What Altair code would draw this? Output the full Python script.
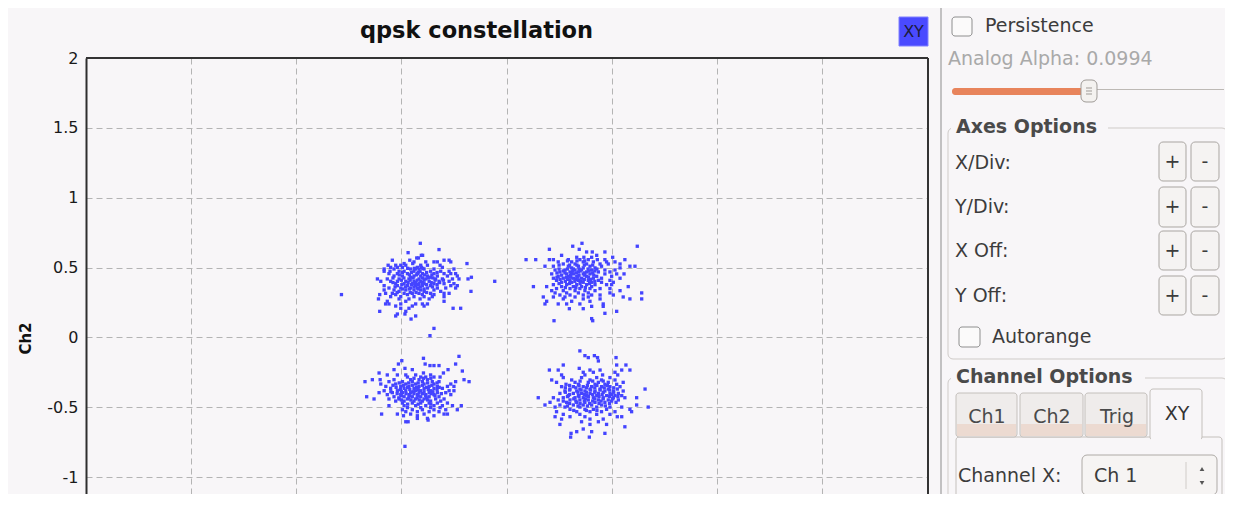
import altair as alt
import pandas as pd

# ---------------- data: received QPSK symbols (Ch1 = I on x, Ch2 = Q on y)
# each row: (Q value, [I values of the dots on that row])
TL_ROWS = [
    (0.674, [-0.410]), (0.629, [-0.321]), (0.607, [-0.468]), (0.588, [-0.405, -0.399]),
    (0.569, [-0.419, -0.427]), (0.553, [-0.543, -0.460, -0.297, -0.273]),
    (0.541, [-0.440, -0.384, -0.345, -0.329, -0.265]), (0.529, [-0.188, -0.487, -0.446]),
    (0.517, [-0.563, -0.527, -0.503, -0.479, -0.408, -0.376, -0.316]),
    (0.502, [-0.551, -0.519, -0.495, -0.424, -0.405, -0.305]),
    (0.495, [-0.470, -0.438, -0.398]),
    (0.490, [-0.582, -0.535, -0.456, -0.432, -0.416, -0.392, -0.345, -0.250]),
    (0.474, [-0.582, -0.554, -0.511, -0.487, -0.440, -0.411, -0.361, -0.313, -0.273]),
    (0.465, [-0.495, -0.452, -0.420, -0.380, -0.330]),
    (0.457, [-0.559, -0.519, -0.471, -0.424, -0.400, -0.345, -0.297, -0.265, -0.242]),
    (0.448, [-0.510, -0.462, -0.428, -0.390, -0.355]),
    (0.440, [-0.535, -0.495, -0.440, -0.408, -0.376, -0.329, -0.281, -0.234]),
    (0.431, [-0.167, -0.456, -0.361]),
    (0.426, [-0.540, -0.488, -0.444, -0.400, -0.372, -0.350]),
    (0.419, [-0.614, -0.567, -0.511, -0.464, -0.416, -0.384, -0.337, -0.305, -0.257, -0.226, -0.183]),
    (0.410, [-0.500, -0.458, -0.425, -0.392, -0.340, -0.300]),
    (0.402, [-0.598, -0.551, -0.519, -0.479, -0.440, -0.408, -0.368, -0.321, -0.273, -0.056]),
    (0.393, [-0.540, -0.468, -0.432, -0.400, -0.358, -0.318]),
    (0.385, [-0.527, -0.487, -0.448, -0.416, -0.392, -0.345, -0.297, -0.250]),
    (0.378, [-0.498, -0.452, -0.420, -0.380, -0.330]),
    (0.371, [-0.582, -0.519, -0.471, -0.432, -0.400, -0.361, -0.265, -0.234]),
    (0.362, [-0.530, -0.480, -0.440, -0.410, -0.352]),
    (0.354, [-0.559, -0.503, -0.456, -0.424, -0.376, -0.329, -0.289, -0.242]),
    (0.347, [-0.495, -0.462, -0.420, -0.392]),
    (0.340, [-0.582, -0.535, -0.479, -0.440, -0.408, -0.345]),
    (0.330, [-0.169, -0.511, -0.392, -0.313]),
    (0.322, [-0.520, -0.458, -0.430, -0.380]),
    (0.316, [-0.575, -0.543, -0.487, -0.448, -0.416, -0.361, -0.297, -0.273]),
    (0.307, [-0.785, -0.603, -0.527, -0.471, -0.400, -0.345]),
    (0.292, [-0.551, -0.503, -0.440, -0.392, -0.353, -0.297]),
    (0.276, [-0.609, -0.511, -0.464, -0.411, -0.368]),
    (0.259, [-0.567, -0.479, -0.297]),
    (0.240, [-0.575, -0.559, -0.503, -0.432, -0.400, -0.376]),
    (0.225, [-0.527, -0.448, -0.392]), (0.209, [-0.254, -0.218, -0.464, -0.503]),
    (0.187, [-0.603, -0.479]), (0.168, [-0.483, -0.519]), (0.154, [-0.527, -0.432]),
    (0.132, [-0.454]), (0.065, [-0.345]), (0.013, [-0.364]),
]
TR_ROWS = [
    (0.674, [0.359]), (0.653, [0.315, 0.622]), (0.631, [0.204, 0.346]),
    (0.612, [0.381, 0.408, 0.468]), (0.588, [0.262, 0.429]),
    (0.574, [0.334, 0.368, 0.405, 0.505]),
    (0.557, [0.093, 0.139, 0.204, 0.223, 0.294, 0.349, 0.389, 0.432, 0.468, 0.563]),
    (0.548, [0.290, 0.335, 0.372]),
    (0.541, [0.246, 0.310, 0.365, 0.413, 0.476, 0.516]),
    (0.526, [0.270, 0.326, 0.381, 0.445, 0.484, 0.540]),
    (0.518, [0.250, 0.300, 0.335, 0.370, 0.410]),
    (0.510, [0.183, 0.223, 0.294, 0.342, 0.397, 0.452, 0.587, 0.611]),
    (0.498, [0.310, 0.365, 0.421, 0.540]),
    (0.490, [0.250, 0.290, 0.318, 0.345, 0.388, 0.430]),
    (0.483, [0.231, 0.278, 0.326, 0.357, 0.405, 0.468, 0.516]),
    (0.476, [0.270, 0.315, 0.350, 0.392, 0.420]),
    (0.469, [0.254, 0.302, 0.342, 0.381, 0.437, 0.492]),
    (0.462, [0.240, 0.278, 0.310, 0.332, 0.372, 0.410]),
    (0.455, [0.215, 0.286, 0.318, 0.365, 0.397, 0.468, 0.524, 0.559]),
    (0.446, [0.262, 0.305, 0.345, 0.372, 0.415]),
    (0.438, [0.246, 0.294, 0.334, 0.381, 0.429, 0.500]),
    (0.431, [0.240, 0.285, 0.305, 0.340, 0.390]),
    (0.424, [0.223, 0.270, 0.318, 0.357, 0.413, 0.452, 0.540]),
    (0.416, [0.255, 0.290, 0.330, 0.370, 0.400]),
    (0.409, [0.238, 0.302, 0.342, 0.389, 0.437, 0.492]),
    (0.402, [0.280, 0.325, 0.355, 0.420]),
    (0.395, [0.262, 0.310, 0.365, 0.405, 0.452, 0.508]),
    (0.386, [0.250, 0.300, 0.350, 0.395]),
    (0.378, [0.223, 0.286, 0.334, 0.381, 0.421, 0.476, 0.500]),
    (0.364, [0.128, 0.191, 0.262, 0.318, 0.357, 0.405, 0.579]),
    (0.357, [0.280, 0.330, 0.375]),
    (0.350, [0.238, 0.302, 0.349, 0.397, 0.445, 0.492]),
    (0.335, [0.215, 0.270, 0.326, 0.373, 0.421, 0.540]),
    (0.319, [0.231, 0.286, 0.342, 0.389, 0.492, 0.643]),
    (0.304, [0.254, 0.302, 0.365, 0.405, 0.445, 0.508]),
    (0.290, [0.175, 0.223, 0.278, 0.326, 0.389, 0.555]),
    (0.276, [0.270, 0.365, 0.445, 0.587, 0.643]),
    (0.259, [0.191, 0.310, 0.397]),
    (0.240, [0.183, 0.246, 0.286, 0.349, 0.460]),
    (0.223, [0.405, 0.460]), (0.206, [0.299, 0.365]), (0.187, [0.524]),
    (0.173, [0.468]), (0.135, [0.405]), (0.120, [0.226, 0.410]),
]
BL_ROWS = [
    (-0.135, [-0.226]), (-0.149, [-0.395]), (-0.166, [-0.498]),
    (-0.190, [-0.514, -0.387, -0.242]), (-0.201, [-0.364, -0.345, -0.321]),
    (-0.221, [-0.483]), (-0.230, [-0.535, -0.448, -0.278]), (-0.240, [-0.210]),
    (-0.254, [-0.606, -0.395, -0.300]),
    (-0.268, [-0.567, -0.519, -0.479, -0.432, -0.361]),
    (-0.283, [-0.471, -0.408, -0.384, -0.345, -0.316]),
    (-0.292, [-0.440, -0.395, -0.360]),
    (-0.302, [-0.638, -0.601, -0.535, -0.456, -0.416, -0.376, -0.202]),
    (-0.316, [-0.673, -0.559, -0.495, -0.448, -0.400, -0.353, -0.321, -0.242, -0.178]),
    (-0.325, [-0.510, -0.465, -0.420, -0.375, -0.330]),
    (-0.333, [-0.598, -0.527, -0.479, -0.432, -0.392, -0.345, -0.265]),
    (-0.342, [-0.540, -0.490, -0.448, -0.400, -0.355]),
    (-0.350, [-0.574, -0.503, -0.464, -0.416, -0.368, -0.329, -0.281, -0.250]),
    (-0.357, [-0.525, -0.470, -0.428, -0.380, -0.320]),
    (-0.364, [-0.551, -0.487, -0.440, -0.392, -0.345, -0.305]),
    (-0.372, [-0.505, -0.460, -0.420, -0.372, -0.330]),
    (-0.381, [-0.582, -0.519, -0.479, -0.432, -0.408, -0.361, -0.273, -0.250]),
    (-0.388, [-0.550, -0.500, -0.445, -0.392, -0.350]),
    (-0.395, [-0.606, -0.543, -0.495, -0.456, -0.416, -0.368, -0.329, -0.289]),
    (-0.402, [-0.520, -0.478, -0.440, -0.400, -0.358, -0.310]),
    (-0.409, [-0.567, -0.503, -0.464, -0.424, -0.384, -0.345, -0.265]),
    (-0.417, [-0.500, -0.460, -0.420, -0.385, -0.340]),
    (-0.424, [-0.665, -0.535, -0.487, -0.448, -0.408, -0.368, -0.321]),
    (-0.432, [-0.512, -0.465, -0.425, -0.380]),
    (-0.440, [-0.630, -0.559, -0.511, -0.471, -0.432, -0.392, -0.337, -0.297]),
    (-0.447, [-0.500, -0.455, -0.415, -0.375]),
    (-0.455, [-0.527, -0.487, -0.440, -0.400, -0.361, -0.313]),
    (-0.469, [-0.495, -0.448, -0.408, -0.368, -0.329, -0.281]),
    (-0.477, [-0.470, -0.420, -0.360]),
    (-0.488, [-0.559, -0.487, -0.432, -0.384, -0.345, -0.305, -0.257, -0.215]),
    (-0.502, [-0.471, -0.408, -0.361, -0.316]),
    (-0.517, [-0.495, -0.448, -0.400, -0.345, -0.289, -0.234]),
    (-0.531, [-0.479, -0.424, -0.368, -0.321]),
    (-0.548, [-0.594, -0.519, -0.456, -0.392, -0.297, -0.281]),
    (-0.560, [-0.490, -0.424, -0.345]), (-0.579, [-0.424, -0.376]),
    (-0.591, [-0.373]), (-0.603, [-0.479, -0.468]), (-0.779, [-0.483]),
]
BR_ROWS = [
    (-0.096, [0.349]), (-0.130, [0.373, 0.418]), (-0.144, [0.389, 0.433, 0.521]),
    (-0.168, [0.437]), (-0.197, [0.270, 0.524, 0.568]), (-0.221, [0.346]),
    (-0.233, [0.204, 0.246, 0.397, 0.445, 0.548, 0.587]),
    (-0.249, [0.365, 0.413, 0.516]), (-0.268, [0.262, 0.373, 0.457, 0.529]),
    (-0.287, [0.270, 0.357, 0.429, 0.492]),
    (-0.304, [0.215, 0.310, 0.397, 0.452, 0.516]),
    (-0.312, [0.350, 0.410, 0.460]),
    (-0.321, [0.238, 0.326, 0.389, 0.437, 0.484, 0.555]),
    (-0.335, [0.283, 0.342, 0.421, 0.468, 0.524]),
    (-0.343, [0.300, 0.345, 0.385, 0.430, 0.480]),
    (-0.352, [0.262, 0.318, 0.365, 0.405, 0.452, 0.492, 0.540]),
    (-0.360, [0.280, 0.330, 0.380, 0.420, 0.465, 0.510]),
    (-0.369, [0.302, 0.349, 0.397, 0.445, 0.484, 0.527, 0.659]),
    (-0.376, [0.300, 0.355, 0.400, 0.445, 0.490]),
    (-0.383, [0.278, 0.334, 0.373, 0.421, 0.468, 0.508, 0.555]),
    (-0.392, [0.280, 0.340, 0.380, 0.420, 0.460, 0.510]),
    (-0.400, [0.254, 0.318, 0.357, 0.397, 0.437, 0.492, 0.532]),
    (-0.408, [0.300, 0.370, 0.410, 0.455, 0.500]),
    (-0.416, [0.294, 0.342, 0.381, 0.429, 0.476, 0.516, 0.548]),
    (-0.423, [0.290, 0.345, 0.390, 0.440, 0.490, 0.530]),
    (-0.431, [0.151, 0.223, 0.270, 0.326, 0.365, 0.413, 0.460, 0.508, 0.563, 0.619]),
    (-0.439, [0.320, 0.375, 0.420, 0.460, 0.505]),
    (-0.447, [0.246, 0.302, 0.349, 0.389, 0.437, 0.484, 0.532]),
    (-0.455, [0.270, 0.330, 0.370, 0.410, 0.450, 0.500]),
    (-0.464, [0.207, 0.286, 0.334, 0.373, 0.421, 0.468, 0.521]),
    (-0.472, [0.300, 0.350, 0.395, 0.440, 0.490]),
    (-0.483, [0.183, 0.254, 0.318, 0.365, 0.405, 0.452, 0.619]),
    (-0.490, [0.290, 0.340, 0.385, 0.470]),
    (-0.498, [0.231, 0.278, 0.349, 0.429, 0.492, 0.548, 0.674]),
    (-0.514, [0.302, 0.373, 0.413, 0.476, 0.587]),
    (-0.522, [0.320, 0.380, 0.430]),
    (-0.531, [0.238, 0.334, 0.397, 0.452, 0.516, 0.595]),
    (-0.550, [0.270, 0.349, 0.429, 0.492]),
    (-0.567, [0.231, 0.302, 0.373, 0.527, 0.548]),
    (-0.584, [0.262, 0.397, 0.460]), (-0.603, [0.357, 0.437]),
    (-0.622, [0.254, 0.397, 0.476]), (-0.639, [0.563]), (-0.655, [0.365]),
    (-0.674, [0.334, 0.405]), (-0.686, [0.307, 0.468]), (-0.713, [0.305, 0.394]),
]

TITLE = "qpsk constellation"
Y_TITLE = "Ch2"
Y_TICKS = [-1, -0.5, 0, 0.5, 1, 1.5, 2]
X_GRID = [-1.5, -1, -0.5, 0, 0.5, 1, 1.5]
X_DOMAIN = [-2, 2]
Y_DOMAIN = [-1.12, 2]

rows = []
for block in (TL_ROWS, TR_ROWS, BL_ROWS, BR_ROWS):
    for q, i_values in block:
        for i in i_values:
            rows.append({"I": i, "Q": q})
points_df = pd.DataFrame(rows)

# ---------------- layout (page pixels)
FONT = "DejaVu Sans"
BG = "#f8f6f8"
OX, OY = 86, 58            # plot origin on the page
PLOT_W, PLOT_H = 841, 436
TXT = "#3c3c3c"

def _df(items, cols, xcols, ycols):
    df = pd.DataFrame(items, columns=cols)
    for c in xcols:
        df[c] = df[c] - OX
    for c in ycols:
        df[c] = df[c] - OY
    return df

def rect_layer(items, **style):
    df = _df(items, ["x1", "y1", "x2", "y2"], ["x1", "x2"], ["y1", "y2"])
    return alt.Chart(df).mark_rect(**style).encode(
        x=alt.X("x1:Q", scale=None, axis=None), x2="x2:Q",
        y=alt.Y("y1:Q", scale=None, axis=None), y2="y2:Q")

def rule_layer(items, width=1):
    df = _df(items, ["x1", "y1", "x2", "y2", "c"], ["x1", "x2"], ["y1", "y2"])
    return alt.Chart(df).mark_rule(strokeWidth=width).encode(
        x=alt.X("x1:Q", scale=None, axis=None), x2="x2:Q",
        y=alt.Y("y1:Q", scale=None, axis=None), y2="y2:Q",
        color=alt.Color("c:N", scale=None))

def text_layer(items, align="left", weight="normal"):
    df = _df(items, ["label", "tx", "ty", "c", "fs"], ["tx"], ["ty"])
    return alt.Chart(df).mark_text(align=align, baseline="middle", font=FONT,
                                   fontWeight=weight).encode(
        x=alt.X("tx:Q", scale=None, axis=None),
        y=alt.Y("ty:Q", scale=None, axis=None),
        text="label:N", color=alt.Color("c:N", scale=None),
        size=alt.Size("fs:Q", scale=None))

layers = []
# frames / separators
layers.append(rule_layer([(941, 8, 941, 500, "#8c8c8c")]))
layers.append(rect_layer([(948, 128, 1227, 359), (948, 378, 1227, 560)],
                         fill=BG, stroke="#cfcbc8", strokeWidth=1, cornerRadius=5))
layers.append(rect_layer([(951, 117, 1108, 138), (951, 366, 1145, 388)], fill=BG))
# XY badge
layers.append(rect_layer([(899, 17, 928, 46)], fill="#4a4aff", stroke="#8080ff", strokeWidth=1))
# checkboxes
layers.append(rect_layer([(952, 17, 972, 36), (959, 327, 980, 347)],
                         fill="#fbfafa", stroke="#8e8e8e", strokeWidth=1, cornerRadius=3))
# slider
layers.append(rule_layer([(1090, 89.5, 1224, 89.5, "#bdb9b5")]))
layers.append(rect_layer([(952, 88, 1086, 95)], fill="#e8845c", cornerRadius=3))
layers.append(rect_layer([(1081, 80, 1097, 102)], fill="#f4f2f0", stroke="#9f9b97",
                         strokeWidth=1, cornerRadius=5))
layers.append(rule_layer([(1086, 88, 1092, 88, "#9f9b97"), (1086, 91, 1092, 91, "#9f9b97"),
                          (1086, 94, 1092, 94, "#9f9b97")]))
# +/- buttons
btn = []
for y1, y2 in ((142, 181), (187, 227), (231, 270), (276, 315)):
    btn += [(1159, y1, 1186, y2), (1191, y1, 1219, y2)]
layers.append(rect_layer(btn, fill="#f5f3f2", stroke="#a9a5a1", strokeWidth=1, cornerRadius=4))
# tabs
layers.append(rect_layer([(956, 437, 1222, 560)], fill=BG, stroke="#c4c0bc", strokeWidth=1,
                         cornerRadius=3))
layers.append(rect_layer([(956, 393, 1017, 437), (1020, 393, 1083, 437), (1085, 393, 1147, 437)],
                         fill="#efeceb", stroke="#c4c0bc", strokeWidth=1, cornerRadius=3))
layers.append(rect_layer([(957, 424, 1016, 436), (1021, 424, 1082, 436), (1086, 424, 1146, 436)],
                         fill="#ecdad1"))
layers.append(rect_layer([(1150, 389, 1202, 440)], fill=BG, stroke="#c4c0bc", strokeWidth=1,
                         cornerRadius=3))
layers.append(rect_layer([(1151, 434, 1201, 442)], fill=BG))
# combobox
layers.append(rect_layer([(1082, 455, 1217, 495)], fill="#f6f4f3", stroke="#aeaaa6",
                         strokeWidth=1, cornerRadius=5))
layers.append(rule_layer([(1186, 462, 1186, 489, "#d0ccc8")]))
arrows = _df([(1202, 469, "triangle-up"), (1202, 483, "triangle-down")],
             ["ax", "ay", "shape"], ["ax"], ["ay"])
layers.append(alt.Chart(arrows).mark_point(filled=True, size=22, color="#555555", opacity=1).encode(
    x=alt.X("ax:Q", scale=None, axis=None), y=alt.Y("ay:Q", scale=None, axis=None),
    shape=alt.Shape("shape:N", scale=None)))

# panel texts
layers.append(text_layer([
    ("Persistence", 985, 26, TXT, 19),
    ("Analog Alpha: 0.0994", 948, 59, "#a9a9a9", 19),
    ("X/Div:", 955, 163, TXT, 19),
    ("Y/Div:", 955, 207, TXT, 19),
    ("X Off:", 955, 251, TXT, 19),
    ("Y Off:", 955, 296, TXT, 19),
    ("Autorange", 992, 337, TXT, 19),
    ("Channel X:", 958, 476, TXT, 19),
    ("Ch 1", 1094, 476, TXT, 19),
]))
layers.append(text_layer([
    ("Axes Options", 956, 127, "#4a4a4a", 19),
    ("Channel Options", 956, 377, "#4a4a4a", 19),
], weight="bold"))
center_txt = [("XY", 913.5, 32, "#1c1c40", 16),
              ("Ch1", 987, 417, "#4a4a4a", 19), ("Ch2", 1052, 417, "#4a4a4a", 19),
              ("Trig", 1117, 417, "#4a4a4a", 19), ("XY", 1177, 414, "#333333", 19)]
for y1, y2 in ((142, 181), (187, 227), (231, 270), (276, 315)):
    center_txt += [("+", 1172.5, (y1 + y2) / 2, TXT, 19), ("-", 1205, (y1 + y2) / 2, TXT, 19)]
layers.append(text_layer(center_txt, align="center"))

# plot border (top and right)
layers.append(alt.Chart(points_df).mark_rule(color="#333333", strokeWidth=2).encode(
    x=alt.value(0), x2=alt.value(PLOT_W + 1), y=alt.value(0)))
layers.append(alt.Chart(points_df).mark_rule(color="#333333", strokeWidth=2).encode(
    x=alt.value(PLOT_W + 1), y=alt.value(0), y2=alt.value(PLOT_H)))

# the constellation
grid_style = dict(grid=True, gridColor="#b4b4b4", gridDash=[6, 4], gridWidth=1)
points = alt.Chart(points_df).mark_square(size=11, color="#4444ff", opacity=1).encode(
    x=alt.X("I:Q", scale=alt.Scale(domain=X_DOMAIN, nice=False, zero=False),
            axis=alt.Axis(values=X_GRID, labels=False, ticks=False, domain=False,
                          title="", **grid_style)),
    y=alt.Y("Q:Q", scale=alt.Scale(domain=Y_DOMAIN, nice=False, zero=False),
            axis=alt.Axis(values=Y_TICKS, labelExpr="toString(datum.value)", labelFont=FONT,
                          labelFontSize=16, labelColor="#1a1a1a", labelPadding=8, ticks=False,
                          domainColor="#2e2e2e", domainWidth=2,
                          title=Y_TITLE, titleFont=FONT, titleFontSize=15,
                          titleFontWeight="bold", titleColor="#111111", titleAngle=270,
                          titleX=-61, titleY=280, titleAlign="center",
                          titleBaseline="middle", **grid_style)),
)
layers.append(points)

chart = alt.layer(*layers).properties(
    width=PLOT_W, height=PLOT_H,
    autosize=alt.AutoSizeParams(type="none"),
    padding={"left": 78, "top": 50, "right": 298, "bottom": 0},
    background=BG,
    title=alt.TitleParams(TITLE, font=FONT, fontSize=22.5, fontWeight="bold", color="#111111",
                          anchor="middle", frame="group", dx=-30, dy=49, offset=14),
).configure_view(stroke="transparent")

chart.save("out.html", embed_options={"renderer": "svg", "actions": False})
